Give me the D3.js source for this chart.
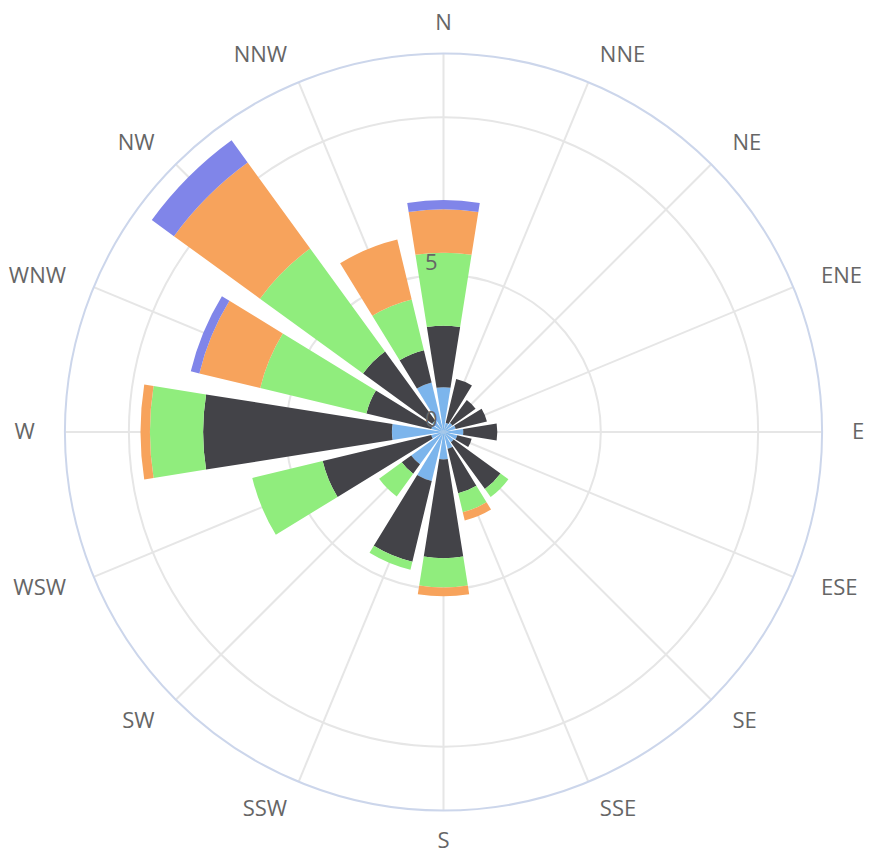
<!DOCTYPE html>
<html>
<head>
<meta charset="utf-8">
<script src="https://cdn.jsdelivr.net/npm/d3@7"></script>
<style>
  body { margin: 0; background: #fff; }
  text { font-family: "Open Sans", sans-serif; }
</style>
</head>
<body>
<svg id="chart" width="871" height="859"></svg>
<script>
var directions = ["N", "NNE", "NE", "ENE", "E", "ESE", "SE", "SSE",
                  "S", "SSW", "SW", "WSW", "W", "WNW", "NW", "NNW"];

// frequencies per direction, one array per speed class (innermost first)
var speed1 = [1.42, 0.30, 0.35, 0.40, 0.63, 0.45, 0.40, 0.55, 0.87, 1.60, 1.27, 0.40, 1.64, 0.40, 0.45, 1.62];
var speed2 = [1.96, 1.43, 0.91, 1.02, 1.08, 0.47, 1.84, 1.45, 3.14, 2.64, 0.37, 3.55, 6.00, 2.12, 2.71, 1.05];
var speed3 = [2.32, 0, 0, 0, 0, 0, 0.31, 0.62, 0.93, 0.26, 0.89, 2.30, 1.69, 3.47, 4.05, 1.66];
var speed4 = [1.38, 0, 0, 0, 0, 0, 0, 0.27, 0.28, 0, 0, 0, 0.30, 1.99, 3.38, 1.96];
var speed5 = [0.29, 0, 0, 0, 0, 0, 0, 0, 0, 0, 0, 0, 0, 0.28, 0.87, 0];

var keys = ["s1", "s2", "s3", "s4", "s5"];
var colours = ["#7cb5ec", "#434348", "#90ed7d", "#f7a35c", "#8085e9"];
var tickValues = [0, 5, 10];

var svg = d3.select("#chart"),
    cx = 443.5,
    cy = 432,
    outer = 378.6,
    fontSize = 22;

var rows = directions.map(function(d, i) {
  return {dir: d, s1: speed1[i], s2: speed2[i], s3: speed3[i], s4: speed4[i], s5: speed5[i]};
});

var series = d3.stack().keys(keys)(rows);

var ymax = d3.max(rows, function(d) { return d3.sum(keys, function(k) { return d[k]; }); }) * 1.05;

var r = d3.scaleLinear()
    .domain([0, ymax])
    .range([0, outer]);

var step = 2 * Math.PI / directions.length;
var x = d3.scaleBand()
    .domain(directions)
    .range([-step / 2, 2 * Math.PI - step / 2])
    .paddingInner(0.2)
    .paddingOuter(0.1);

function mid(d) { return x(d) + x.bandwidth() / 2; }

var g = svg.append("g")
    .attr("transform", "translate(" + cx + "," + cy + ")");

// grid circles
g.append("g")
  .selectAll("circle")
  .data(tickValues.filter(function(v) { return v > 0; }))
  .enter().append("circle")
    .attr("r", r)
    .attr("fill", "none")
    .attr("stroke", "#e6e6e6")
    .attr("stroke-width", 2);

// radial lines
g.append("g")
  .selectAll("line")
  .data(directions)
  .enter().append("line")
    .attr("x1", 0)
    .attr("y1", 0)
    .attr("x2", function(d) { return outer * Math.sin(mid(d)); })
    .attr("y2", function(d) { return -outer * Math.cos(mid(d)); })
    .attr("stroke", "#e6e6e6")
    .attr("stroke-width", 2);

// outer line
g.append("circle")
    .attr("r", outer)
    .attr("fill", "none")
    .attr("stroke", "#ccd6eb")
    .attr("stroke-width", 2);

var arc = d3.arc()
    .innerRadius(function(d) { return r(d[0]); })
    .outerRadius(function(d) { return r(d[1]); })
    .startAngle(function(d) { return x(d.data.dir); })
    .endAngle(function(d) { return x(d.data.dir) + x.bandwidth(); });

g.append("g")
  .selectAll("g")
  .data(series)
  .enter().append("g")
    .attr("fill", function(d, i) { return colours[i]; })
  .selectAll("path")
  .data(function(d) { return d.filter(function(p) { return p[1] - p[0] > 0; }); })
  .enter().append("path")
    .attr("d", arc);

// direction labels: anchored 30px outside the pane, aligned by side
var labelR = outer + 30;
g.append("g")
  .selectAll("text")
  .data(directions)
  .enter().append("text")
    .attr("font-size", fontSize)
    .attr("fill", "#666666")
    .attr("x", function(d) { return labelR * Math.sin(mid(d)); })
    .attr("y", function(d) { return -labelR * Math.cos(mid(d)) + 7; })
    .attr("text-anchor", function(d) {
      var deg = (mid(d) * 180 / Math.PI + 360) % 360;
      if (deg > 20 && deg < 160) return "start";
      if (deg > 200 && deg < 340) return "end";
      return "middle";
    })
    .text(function(d) { return d; });

// value labels (last tick hidden)
g.append("g")
  .selectAll("text")
  .data(tickValues.slice(0, -1))
  .enter().append("text")
    .attr("x", -6)
    .attr("y", function(v) { return -r(v) - 5; })
    .attr("text-anchor", "end")
    .attr("font-size", fontSize)
    .attr("fill", "#666666")
    .text(function(v) { return v; });
</script>
</body>
</html>
